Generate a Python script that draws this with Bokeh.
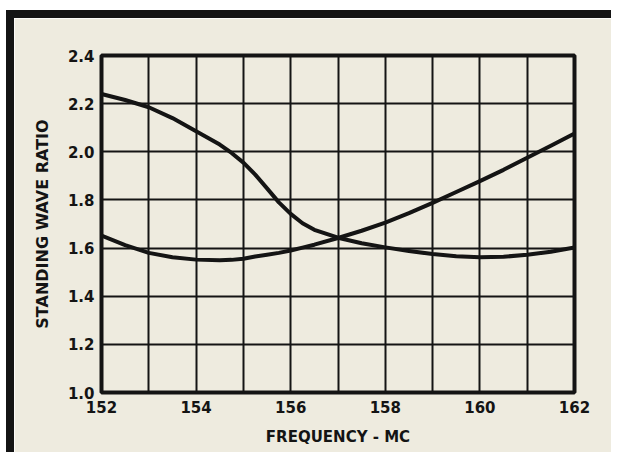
from bokeh.plotting import figure
from bokeh.models import Range1d, FixedTicker, PrintfTickFormatter
from bokeh.embed import file_html
from bokeh.resources import INLINE

# ---- data ----
freq = [152, 152.5, 153, 153.5, 154, 154.5, 154.75, 155, 155.25, 155.5, 155.75,
        156, 156.25, 156.5, 157, 157.5, 158, 158.5, 159, 159.5, 160, 160.5,
        161, 161.5, 162]
swr_a = [2.24, 2.215, 2.185, 2.14, 2.085, 2.03, 1.995, 1.955, 1.905, 1.848, 1.79,
         1.742, 1.703, 1.676, 1.643, 1.62, 1.603, 1.588, 1.575, 1.566, 1.562, 1.564,
         1.572, 1.585, 1.602]
swr_b = [1.652, 1.612, 1.58, 1.562, 1.552, 1.549, 1.551, 1.556, 1.565, 1.572, 1.58,
         1.59, 1.602, 1.614, 1.642, 1.672, 1.706, 1.745, 1.788, 1.833, 1.878, 1.925,
         1.975, 2.025, 2.076]
x_ticks = [152, 154, 156, 158, 160, 162]
x_grid = [152, 153, 154, 155, 156, 157, 158, 159, 160, 161, 162]
y_ticks = [1.0, 1.2, 1.4, 1.6, 1.8, 2.0, 2.2, 2.4]
x_label = "FREQUENCY - MC"
y_label = "STANDING WAVE RATIO"

BG = "#eeebdf"
INK = "#141414"
FONT = "DejaVu Sans"

p = figure(width=605, height=442,
           x_range=Range1d(152, 162), y_range=Range1d(1.0, 2.4),
           output_backend="svg", toolbar_location=None,
           min_border_left=87, min_border_right=45,
           min_border_top=37, min_border_bottom=68)

# outer black frame of the printed figure
p.styles = {"margin-left": "6px", "margin-top": "10px",
            "border-left": "8px solid " + INK, "border-top": "8px solid " + INK}

p.background_fill_color = BG
p.border_fill_color = BG
p.outline_line_color = INK
p.outline_line_width = 4

p.xaxis.ticker = FixedTicker(ticks=x_ticks)
p.yaxis.ticker = FixedTicker(ticks=y_ticks)
p.yaxis.formatter = PrintfTickFormatter(format="%.1f")
p.xgrid.ticker = FixedTicker(ticks=x_grid)
p.ygrid.ticker = FixedTicker(ticks=y_ticks)
for g in (p.xgrid, p.ygrid):
    g.grid_line_color = INK
    g.grid_line_width = 2
    g.grid_line_alpha = 1.0

for ax in (p.xaxis, p.yaxis):
    ax.axis_line_color = None
    ax.major_tick_line_color = None
    ax.minor_tick_line_color = None
    ax.major_tick_out = 0
    ax.major_tick_in = 0
    ax.major_label_text_font = FONT
    ax.major_label_text_font_style = "bold"
    ax.major_label_text_font_size = "15px"
    ax.major_label_text_color = INK
    ax.axis_label_text_font = FONT
    ax.axis_label_text_font_style = "bold"
    ax.axis_label_text_font_size = "15px"
    ax.axis_label_text_color = INK

p.yaxis.axis_label_text_font_size = "16px"
p.xaxis.axis_label = x_label
p.yaxis.axis_label = y_label
p.xaxis.major_label_standoff = 8
p.yaxis.major_label_standoff = 7
p.xaxis.axis_label_standoff = 12
p.yaxis.axis_label_standoff = 13

p.line(freq, swr_a, line_color=INK, line_width=4, line_join="round", line_cap="round")
p.line(freq, swr_b, line_color=INK, line_width=4, line_join="round", line_cap="round")

open("out.html", "w").write(file_html(p, INLINE))
